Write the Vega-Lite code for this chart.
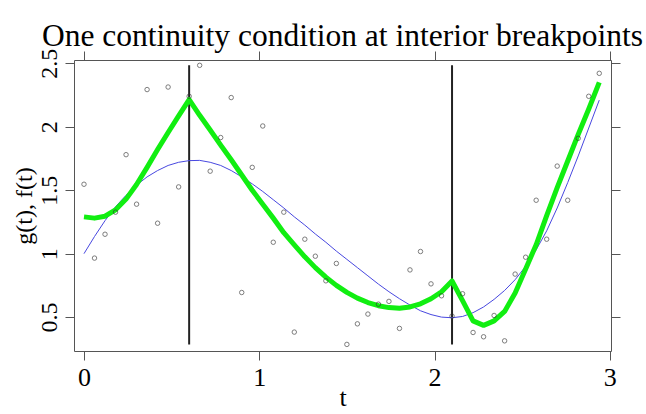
{
  "$schema": "https://vega.github.io/schema/vega-lite/v6.json",
  "width": 537,
  "height": 291,
  "autosize": {"type": "none"},
  "padding": {"left": 74, "top": 60, "right": 35, "bottom": 63},
  "background": "white",
  "title": {
    "text": "One continuity condition at interior breakpoints",
    "font": "Liberation Serif",
    "fontSize": 31.5,
    "fontWeight": "normal",
    "color": "black",
    "anchor": "middle",
    "frame": "group",
    "offset": 8,
    "dy": 12
  },
  "config": {
    "view": {"stroke": "#555", "strokeWidth": 1},
    "axis": {
      "grid": false,
      "domain": false,
      "tickColor": "#555",
      "tickSize": 9,
      "tickWidth": 1,
      "labelFont": "Liberation Serif",
      "labelFontSize": 26,
      "labelColor": "black",
      "titleFont": "Liberation Serif",
      "titleFontSize": 26,
      "titleFontWeight": "normal",
      "titleColor": "black"
    }
  },
  "datasets": {
    "obs": [
      {"t": 0.00, "y": 1.547}, {"t": 0.06, "y": 0.965}, {"t": 0.12, "y": 1.153}, {"t": 0.18, "y": 1.327},
      {"t": 0.24, "y": 1.780}, {"t": 0.30, "y": 1.390}, {"t": 0.36, "y": 2.293}, {"t": 0.42, "y": 1.240},
      {"t": 0.48, "y": 2.313}, {"t": 0.54, "y": 1.526}, {"t": 0.60, "y": 2.240}, {"t": 0.66, "y": 2.484},
      {"t": 0.72, "y": 1.650}, {"t": 0.78, "y": 1.915}, {"t": 0.84, "y": 2.230}, {"t": 0.90, "y": 0.694},
      {"t": 0.96, "y": 1.680}, {"t": 1.02, "y": 2.006}, {"t": 1.08, "y": 1.090}, {"t": 1.14, "y": 1.327},
      {"t": 1.20, "y": 0.382}, {"t": 1.26, "y": 1.114}, {"t": 1.32, "y": 0.980}, {"t": 1.38, "y": 0.786},
      {"t": 1.44, "y": 0.923}, {"t": 1.50, "y": 0.285}, {"t": 1.56, "y": 0.447}, {"t": 1.62, "y": 0.524},
      {"t": 1.68, "y": 0.602}, {"t": 1.74, "y": 0.624}, {"t": 1.80, "y": 0.411}, {"t": 1.86, "y": 0.872},
      {"t": 1.92, "y": 1.017}, {"t": 1.98, "y": 0.762}, {"t": 2.04, "y": 0.668}, {"t": 2.10, "y": 0.508},
      {"t": 2.16, "y": 0.684}, {"t": 2.22, "y": 0.379}, {"t": 2.28, "y": 0.345}, {"t": 2.34, "y": 0.513},
      {"t": 2.40, "y": 0.313}, {"t": 2.46, "y": 0.839}, {"t": 2.52, "y": 0.972}, {"t": 2.58, "y": 1.421},
      {"t": 2.64, "y": 1.114}, {"t": 2.70, "y": 1.690}, {"t": 2.76, "y": 1.421}, {"t": 2.82, "y": 1.909},
      {"t": 2.88, "y": 2.240}, {"t": 2.94, "y": 2.421}
    ],
    "curves": [
      {"t": 0.00, "g": 1.290, "f": 1.000}, {"t": 0.06, "g": 1.280, "f": 1.135}, {"t": 0.12, "g": 1.295, "f": 1.260},
      {"t": 0.18, "g": 1.345, "f": 1.370}, {"t": 0.24, "g": 1.430, "f": 1.460}, {"t": 0.30, "g": 1.545, "f": 1.540},
      {"t": 0.36, "g": 1.680, "f": 1.605}, {"t": 0.42, "g": 1.820, "f": 1.655}, {"t": 0.48, "g": 1.955, "f": 1.695},
      {"t": 0.54, "g": 2.085, "f": 1.720}, {"t": 0.60, "g": 2.214, "f": 1.733}, {"t": 0.66, "g": 2.090, "f": 1.735},
      {"t": 0.72, "g": 1.975, "f": 1.720}, {"t": 0.78, "g": 1.855, "f": 1.695}, {"t": 0.84, "g": 1.740, "f": 1.655},
      {"t": 0.90, "g": 1.620, "f": 1.605}, {"t": 0.96, "g": 1.500, "f": 1.550}, {"t": 1.02, "g": 1.390, "f": 1.490},
      {"t": 1.08, "g": 1.280, "f": 1.425}, {"t": 1.14, "g": 1.165, "f": 1.360}, {"t": 1.20, "g": 1.070, "f": 1.290},
      {"t": 1.26, "g": 0.975, "f": 1.225}, {"t": 1.32, "g": 0.890, "f": 1.155}, {"t": 1.38, "g": 0.815, "f": 1.090},
      {"t": 1.44, "g": 0.750, "f": 1.020}, {"t": 1.50, "g": 0.695, "f": 0.955}, {"t": 1.56, "g": 0.650, "f": 0.890},
      {"t": 1.62, "g": 0.615, "f": 0.825}, {"t": 1.68, "g": 0.590, "f": 0.760}, {"t": 1.74, "g": 0.575, "f": 0.700},
      {"t": 1.80, "g": 0.570, "f": 0.645}, {"t": 1.86, "g": 0.580, "f": 0.595}, {"t": 1.92, "g": 0.605, "f": 0.550},
      {"t": 1.98, "g": 0.645, "f": 0.520}, {"t": 2.04, "g": 0.700, "f": 0.500}, {"t": 2.10, "g": 0.785, "f": 0.495},
      {"t": 2.16, "g": 0.630, "f": 0.505}, {"t": 2.22, "g": 0.470, "f": 0.535}, {"t": 2.28, "g": 0.435, "f": 0.580},
      {"t": 2.34, "g": 0.470, "f": 0.640}, {"t": 2.40, "g": 0.545, "f": 0.710}, {"t": 2.46, "g": 0.690, "f": 0.795},
      {"t": 2.52, "g": 0.880, "f": 0.900}, {"t": 2.58, "g": 1.070, "f": 1.030}, {"t": 2.64, "g": 1.300, "f": 1.180},
      {"t": 2.70, "g": 1.520, "f": 1.360}, {"t": 2.76, "g": 1.730, "f": 1.560}, {"t": 2.82, "g": 1.940, "f": 1.770},
      {"t": 2.88, "g": 2.140, "f": 1.990}, {"t": 2.94, "g": 2.350, "f": 2.210}
    ],
    "breaks": [
      {"t": 0.6, "lo": 0.285, "hi": 2.484},
      {"t": 2.1, "lo": 0.285, "hi": 2.484}
    ]
  },
  "layer": [
    {
      "data": {"name": "breaks"},
      "mark": {"type": "rule", "color": "#222", "strokeWidth": 2},
      "encoding": {
        "x": {"field": "t", "type": "quantitative", "scale": {"domain": [-0.057, 3.007], "nice": false, "zero": false},
              "axis": {"orient": "bottom", "values": [0, 1, 2, 3], "labelExpr": "'' + datum.value", "title": "t", "labelPadding": 4, "titlePadding": -6}},
        "y": {"field": "lo", "type": "quantitative", "scale": {"domain": [0.233, 2.526], "nice": false, "zero": false},
              "axis": {"orient": "left", "values": [0.5, 1, 1.5, 2, 2.5], "labelExpr": "'' + datum.value", "labelAngle": -90, "labelAlign": "center", "labelBaseline": "bottom", "labelPadding": 4, "labelFontSize": 24, "title": "g(t), f(t)", "titleFontSize": 24, "titlePadding": 1}},
        "y2": {"field": "hi"}
      }
    },
    {
      "data": {"name": "curves"},
      "mark": {"type": "line", "color": "#4848e0", "strokeWidth": 1},
      "encoding": {
        "x": {"field": "t", "type": "quantitative", "axis": {"orient": "top", "values": [0, 1, 2, 3], "labels": false, "title": null}},
        "y": {"field": "f", "type": "quantitative", "axis": {"orient": "right", "values": [0.5, 1, 1.5, 2, 2.5], "labels": false, "title": null}}
      }
    },
    {
      "data": {"name": "curves"},
      "mark": {"type": "line", "color": "#11ee11", "strokeWidth": 5, "strokeJoin": "round"},
      "encoding": {
        "x": {"field": "t", "type": "quantitative", "axis": null},
        "y": {"field": "g", "type": "quantitative", "axis": null}
      }
    },
    {
      "data": {"name": "obs"},
      "mark": {"type": "point", "shape": "circle", "filled": false, "size": 20, "stroke": "#333", "strokeWidth": 0.9},
      "encoding": {
        "x": {"field": "t", "type": "quantitative", "axis": null},
        "y": {"field": "y", "type": "quantitative", "axis": null}
      }
    }
  ],
  "resolve": {"axis": {"x": "independent", "y": "independent"}}
}
